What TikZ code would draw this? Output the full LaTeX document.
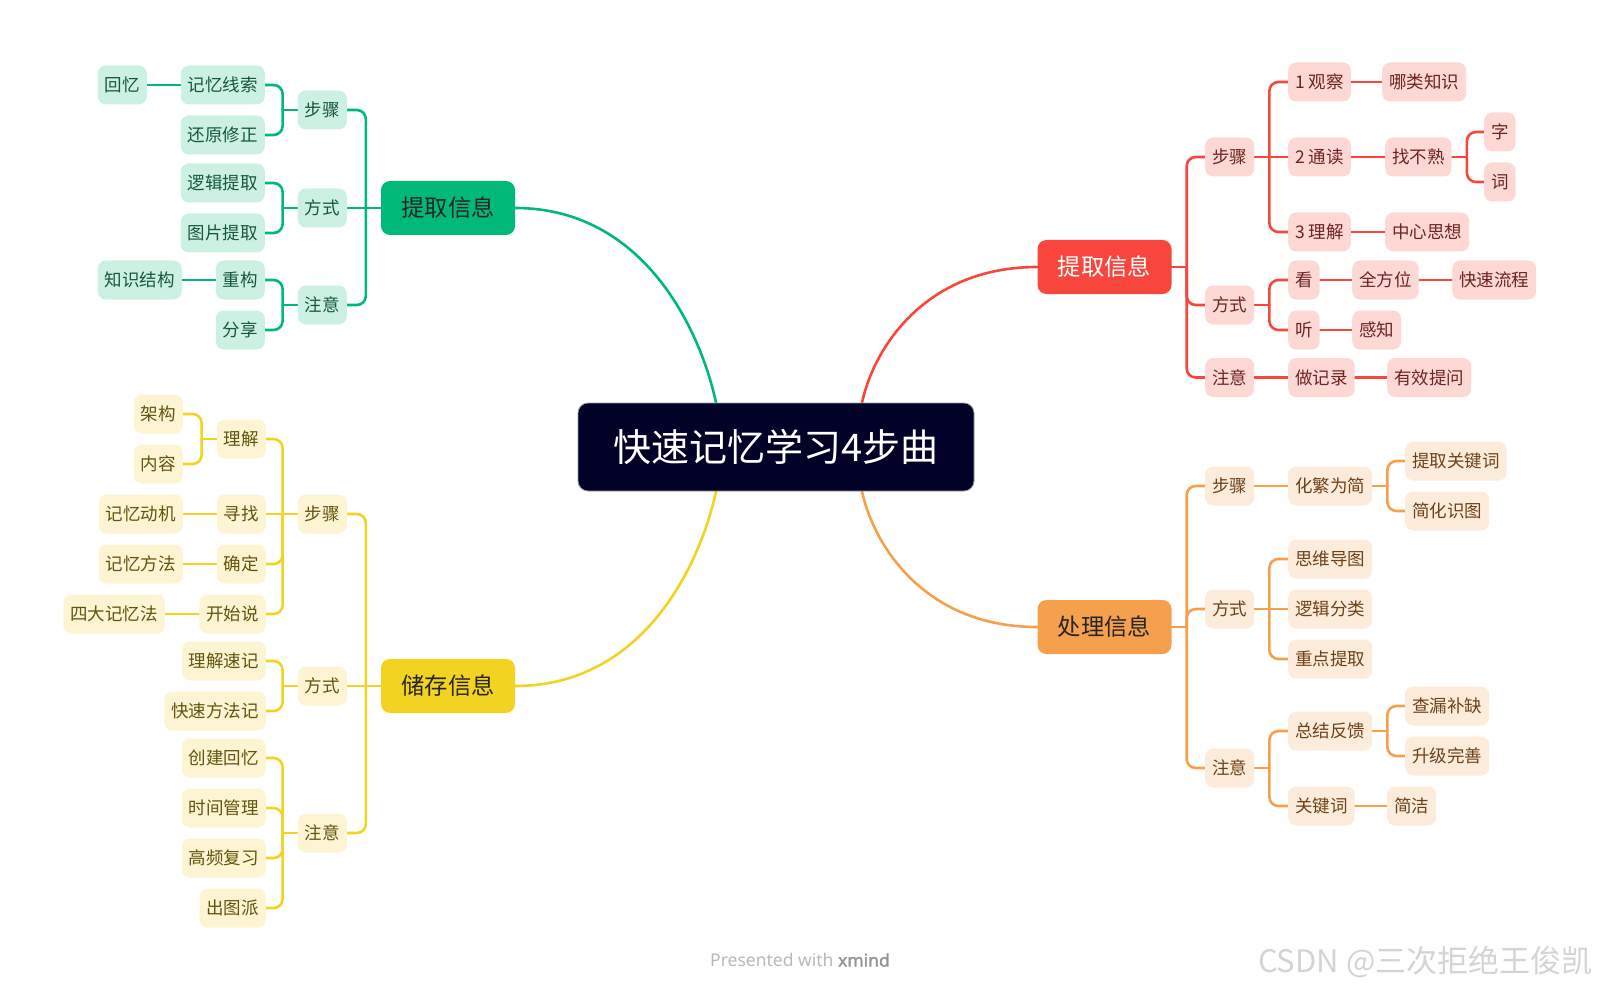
\documentclass[tikz,border=0pt]{standalone}
\usepackage{fontspec}
\setmainfont{Noto Sans CJK SC}
\newfontfamily\wmlatin{Noto Sans}
\newfontfamily\wmboldf[FakeBold=1.6]{Noto Sans}
\usetikzlibrary{backgrounds,calc}

\definecolor{gMain}{HTML}{01B977}
\definecolor{gFill}{HTML}{CCF1E2}
\definecolor{gText}{HTML}{17573C}
\definecolor{rMain}{HTML}{F9463D}
\definecolor{rFill}{HTML}{FED8D5}
\definecolor{rText}{HTML}{6E2420}
\definecolor{oMain}{HTML}{F5A04D}
\definecolor{oFill}{HTML}{FDEBDB}
\definecolor{oText}{HTML}{6E4218}
\definecolor{yMain}{HTML}{F2D321}
\definecolor{yFill}{HTML}{FCF4D2}
\definecolor{yText}{HTML}{62550E}
\definecolor{cFill}{HTML}{020228}

\newcommand{\lconn}[3]{\draw[#1] (#2.west) -- ++(-15,0) coordinate (lctmp); \draw[#1,rounded corners=9pt] (lctmp) |- (#3.east);}
\newcommand{\rconn}[3]{\draw[#1] (#2.east) -- ++(15,0) coordinate (rctmp); \draw[#1,rounded corners=9pt] (rctmp) |- (#3.west);}

\tikzset{
  sub/.style={rounded corners=8pt, minimum height=39pt, inner xsep=7pt, inner ysep=0pt,
    text height=15pt, text depth=1.6pt, font=\fontsize{17.5}{19}\selectfont},
  gs/.style={sub, fill=gFill, text=gText},
  rs/.style={sub, fill=rFill, text=rText},
  os/.style={sub, fill=oFill, text=oText},
  ys/.style={sub, fill=yFill, text=yText},
  mainn/.style={rounded corners=9pt, minimum width=134pt, minimum height=54pt, inner sep=0pt,
    text height=20pt, text depth=2.4pt, font=\fontsize{23.3}{25}\selectfont},
  gl/.style={draw=gMain, line width=2.6pt, line cap=round},
  rl/.style={draw=rMain, line width=2.6pt, line cap=round},
  ol/.style={draw=oMain, line width=2.6pt, line cap=round},
  yl/.style={draw=yMain, line width=2.6pt, line cap=round},
}

\begin{document}
\begin{tikzpicture}[x=1pt,y=-1pt]
\useasboundingbox (0,0) rectangle (1600,992);

% centre
\node[rounded corners=10pt, fill=cFill, draw=black!40, line width=0.8pt, text=white,
  minimum width=396pt, minimum height=88pt, inner sep=0pt, text height=32pt, text depth=3.8pt,
  font=\fontsize{38}{42}\selectfont] (C) at (776,447) {快速记忆学习4步曲};

% ---------- green: 提取信息 (left top)
\node[mainn, fill=gMain, text=black!85] (gM) at (448,208) {提取信息};
\node[gs, anchor=east] (gS) at (347,110) {步骤};
\node[gs, anchor=east] (gF) at (347,208) {方式};
\node[gs, anchor=east] (gN) at (347,305) {注意};
\node[gs, anchor=east] (gS1) at (265,85) {记忆线索};
\node[gs, anchor=east] (gS1a) at (147,85) {回忆};
\node[gs, anchor=east] (gS2) at (265,135) {还原修正};
\node[gs, anchor=east] (gF1) at (265,183) {逻辑提取};
\node[gs, anchor=east] (gF2) at (265,233) {图片提取};
\node[gs, anchor=east] (gN1) at (265,280) {重构};
\node[gs, anchor=east] (gN1a) at (182,280) {知识结构};
\node[gs, anchor=east] (gN2) at (265,330) {分享};

% ---------- yellow: 储存信息 (left bottom)
\node[mainn, fill=yMain, text=black!85] (yM) at (448,686) {储存信息};
\node[ys, anchor=east] (yS) at (347,514) {步骤};
\node[ys, anchor=east] (yF) at (347,686) {方式};
\node[ys, anchor=east] (yN) at (347,833) {注意};
\node[ys, anchor=east] (yS1) at (266,439) {理解};
\node[ys, anchor=east] (yS1a) at (183,414) {架构};
\node[ys, anchor=east] (yS1b) at (183,464) {内容};
\node[ys, anchor=east] (yS2) at (266,514) {寻找};
\node[ys, anchor=east] (yS2a) at (183,514) {记忆动机};
\node[ys, anchor=east] (yS3) at (266,564) {确定};
\node[ys, anchor=east] (yS3a) at (183,564) {记忆方法};
\node[ys, anchor=east] (yS4) at (266,614) {开始说};
\node[ys, anchor=east] (yS4a) at (165,614) {四大记忆法};
\node[ys, anchor=east] (yF1) at (266,661) {理解速记};
\node[ys, anchor=east] (yF2) at (266,711) {快速方法记};
\node[ys, anchor=east] (yN1) at (266,758) {创建回忆};
\node[ys, anchor=east] (yN2) at (266,808) {时间管理};
\node[ys, anchor=east] (yN3) at (266,858) {高频复习};
\node[ys, anchor=east] (yN4) at (266,908) {出图派};

% ---------- red: 提取信息 (right top)
\node[mainn, fill=rMain, text=white] (rM) at (1104.5,267) {提取信息};
\node[rs, anchor=west] (rS) at (1205,157) {步骤};
\node[rs, anchor=west] (rF) at (1205,305) {方式};
\node[rs, anchor=west] (rN) at (1205,377.5) {注意};
\node[rs, anchor=west] (rS1) at (1288,82) {1 观察};
\node[rs, anchor=west] (rS1a) at (1382,82) {哪类知识};
\node[rs, anchor=west] (rS2) at (1288,157) {2 通读};
\node[rs, anchor=west] (rS2a) at (1385,157) {找不熟};
\node[rs, anchor=west] (rS2a1) at (1484,132) {字};
\node[rs, anchor=west] (rS2a2) at (1484,182) {词};
\node[rs, anchor=west] (rS3) at (1288,232) {3 理解};
\node[rs, anchor=west] (rS3a) at (1385,232) {中心思想};
\node[rs, anchor=west] (rF1) at (1288,280) {看};
\node[rs, anchor=west] (rF1a) at (1352,280) {全方位};
\node[rs, anchor=west] (rF1b) at (1452,280) {快速流程};
\node[rs, anchor=west] (rF2) at (1288,330) {听};
\node[rs, anchor=west] (rF2a) at (1352,330) {感知};
\node[rs, anchor=west] (rN1) at (1288,377.5) {做记录};
\node[rs, anchor=west] (rN1a) at (1387,377.5) {有效提问};

% ---------- orange: 处理信息 (right bottom)
\node[mainn, fill=oMain, text=black!85] (oM) at (1104.5,627) {处理信息};
\node[os, anchor=west] (oS) at (1205,486) {步骤};
\node[os, anchor=west] (oF) at (1205,609) {方式};
\node[os, anchor=west] (oN) at (1205,768) {注意};
\node[os, anchor=west] (oS1) at (1288,486) {化繁为简};
\node[os, anchor=west] (oS1a) at (1405,461) {提取关键词};
\node[os, anchor=west] (oS1b) at (1405,511) {简化识图};
\node[os, anchor=west] (oF1) at (1288,559) {思维导图};
\node[os, anchor=west] (oF2) at (1288,609) {逻辑分类};
\node[os, anchor=west] (oF3) at (1288,659) {重点提取};
\node[os, anchor=west] (oN1) at (1288,731) {总结反馈};
\node[os, anchor=west] (oN1a) at (1405,706) {查漏补缺};
\node[os, anchor=west] (oN1b) at (1405,756) {升级完善};
\node[os, anchor=west] (oN2) at (1288,806) {关键词};
\node[os, anchor=west] (oN2a) at (1387,806) {简洁};

% watermarks
\node[font=\wmlatin\fontsize{17.5}{19}\selectfont, text=black!28] (pw) at (800,960)
  {Presented with \textcolor{black!42}{\wmboldf xmind}};
\node[anchor=east, font=\fontsize{31}{34}\selectfont, text=black!17] (csdn) at (1596,962)
  {CSDN @三次拒绝王俊凯};

\begin{pgfonlayer}{background}
% centre curves
\draw[gl] (gM.east) .. controls +(130,0) and +(-15,-70) .. ([xshift=-60pt]C.north);
\draw[rl] (rM.west) .. controls +(-112,0) and +(12,-55) .. ([xshift=86pt]C.north);
\draw[yl] (yM.east) .. controls +(130,0) and +(-15,70) .. ([xshift=-60pt]C.south);
\draw[ol] (oM.west) .. controls +(-112,0) and +(12,55) .. ([xshift=86pt]C.south);

% green
\lconn{gl}{gM}{gS}
\draw[gl] (gM.west) -- (gF.east);
\lconn{gl}{gM}{gN}
\lconn{gl}{gS}{gS1}
\lconn{gl}{gS}{gS2}
\draw[gl] (gS1.west) -- (gS1a.east);
\lconn{gl}{gF}{gF1}
\lconn{gl}{gF}{gF2}
\lconn{gl}{gN}{gN1}
\lconn{gl}{gN}{gN2}
\draw[gl] (gN1.west) -- (gN1a.east);

% yellow
\lconn{yl}{yM}{yS}
\draw[yl] (yM.west) -- (yF.east);
\lconn{yl}{yM}{yN}
\lconn{yl}{yS}{yS1}
\draw[yl] (yS.west) -- (yS2.east);
\lconn{yl}{yS}{yS3}
\lconn{yl}{yS}{yS4}
\lconn{yl}{yS1}{yS1a}
\lconn{yl}{yS1}{yS1b}
\draw[yl] (yS2.west) -- (yS2a.east);
\draw[yl] (yS3.west) -- (yS3a.east);
\draw[yl] (yS4.west) -- (yS4a.east);
\lconn{yl}{yF}{yF1}
\lconn{yl}{yF}{yF2}
\lconn{yl}{yN}{yN1}
\lconn{yl}{yN}{yN2}
\lconn{yl}{yN}{yN3}
\lconn{yl}{yN}{yN4}

% red
\rconn{rl}{rM}{rS}
\rconn{rl}{rM}{rF}
\rconn{rl}{rM}{rN}
\rconn{rl}{rS}{rS1}
\draw[rl] (rS.east) -- (rS2.west);
\rconn{rl}{rS}{rS3}
\draw[rl] (rS1.east) -- (rS1a.west);
\draw[rl] (rS2.east) -- (rS2a.west);
\rconn{rl}{rS2a}{rS2a1}
\rconn{rl}{rS2a}{rS2a2}
\draw[rl] (rS3.east) -- (rS3a.west);
\rconn{rl}{rF}{rF1}
\rconn{rl}{rF}{rF2}
\draw[rl] (rF1.east) -- (rF1a.west);
\draw[rl] (rF1a.east) -- (rF1b.west);
\draw[rl] (rF2.east) -- (rF2a.west);
\draw[rl] (rN.east) -- (rN1.west);
\draw[rl] (rN1.east) -- (rN1a.west);

% orange
\rconn{ol}{oM}{oS}
\rconn{ol}{oM}{oF}
\rconn{ol}{oM}{oN}
\draw[ol] (oS.east) -- (oS1.west);
\rconn{ol}{oS1}{oS1a}
\rconn{ol}{oS1}{oS1b}
\rconn{ol}{oF}{oF1}
\draw[ol] (oF.east) -- (oF2.west);
\rconn{ol}{oF}{oF3}
\rconn{ol}{oN}{oN1}
\rconn{ol}{oN}{oN2}
\rconn{ol}{oN1}{oN1a}
\rconn{ol}{oN1}{oN1b}
\draw[ol] (oN2.east) -- (oN2a.west);
\end{pgfonlayer}
\end{tikzpicture}
\end{document}
